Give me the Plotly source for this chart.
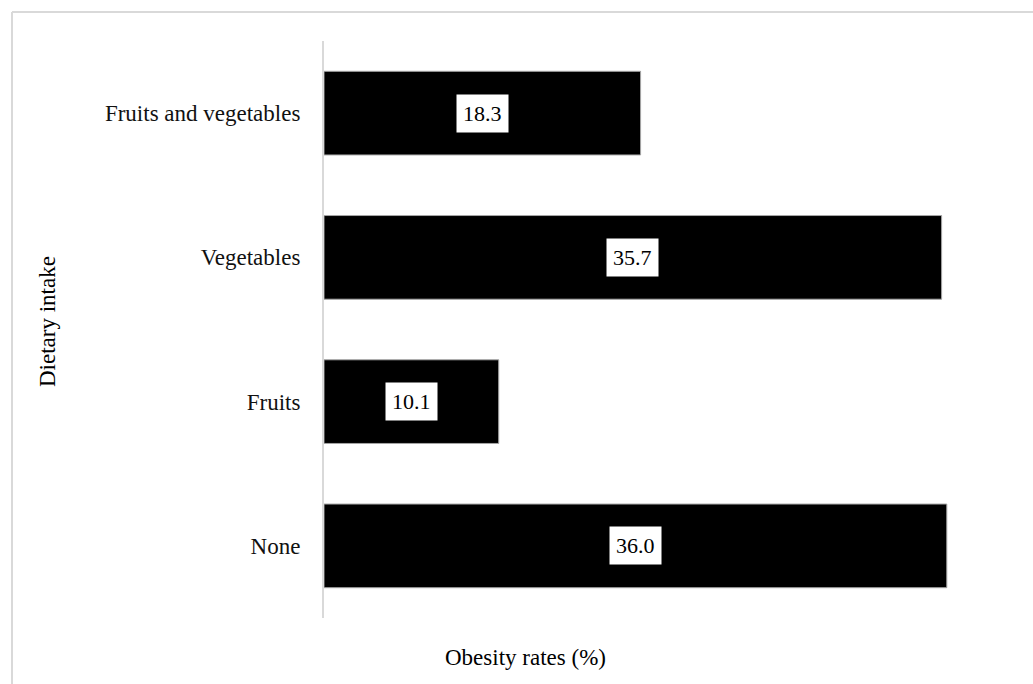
import plotly.graph_objects as go

categories = ["None", "Fruits", "Vegetables", "Fruits and vegetables"]
values = [36.0, 10.1, 35.7, 18.3]
x_title = "Obesity rates (%)"
y_title = "Dietary intake"

FONT = "Liberation Serif"
W, H = 1033, 684
ML, MR, MT, MB = 324, 30, 41, 66
pw = W - ML - MR
ph = H - MT - MB
xmax = pw / 17.3
FS = 23

fig = go.Figure()
fig.add_trace(go.Bar(
    y=categories, x=values, orientation="h",
    marker=dict(color="black", line=dict(color="#a6a6a6", width=1)),
    hoverinfo="skip",
))

for c, v in zip(categories, values):
    fig.add_annotation(
        x=v / 2, y=c, xref="x", yref="y", text=f"{v:.1f}", showarrow=False,
        xanchor="center", yanchor="middle",
        bgcolor="white", borderpad=6, font=dict(family=FONT, size=22, color="black"),
    )

fig.add_annotation(x=(525 - ML) / pw, y=-(657 - MT - ph) / ph, xref="paper", yref="paper",
                   text=x_title, showarrow=False, xanchor="center", yanchor="middle",
                   font=dict(family=FONT, size=FS, color="black"))
fig.add_annotation(x=-(ML - 47) / pw, y=1 - (322 - MT) / ph, xref="paper", yref="paper",
                   text=y_title, showarrow=False, textangle=-90,
                   xanchor="center", yanchor="middle",
                   font=dict(family=FONT, size=FS, color="black"))

# outer chart border (top and left visible)
bx = -(ML - 12) / pw
by = 1 + (MT - 12) / ph
fig.add_shape(type="line", xref="paper", yref="paper", x0=bx, x1=2, y0=by, y1=by,
              line=dict(color="#d9d9d9", width=2))
fig.add_shape(type="line", xref="paper", yref="paper", x0=bx, x1=bx, y0=by, y1=-1,
              line=dict(color="#d9d9d9", width=2))

fig.update_layout(
    width=W, height=H, margin=dict(l=ML, r=MR, t=MT, b=MB),
    paper_bgcolor="white", plot_bgcolor="white", showlegend=False,
    bargap=0.42,
    font=dict(family=FONT, size=FS, color="black"),
    xaxis=dict(range=[0, xmax], showticklabels=False, showgrid=False, zeroline=False,
               showline=False, fixedrange=True),
    yaxis=dict(showgrid=False, zeroline=False, showline=True, linecolor="#d9d9d9", linewidth=2,
               ticks="", ticklabelstandoff=17, tickfont=dict(family=FONT, size=FS, color="#111")),
)
fig.update_yaxes(categoryorder="array", categoryarray=categories)
fig.write_html("out.html")
